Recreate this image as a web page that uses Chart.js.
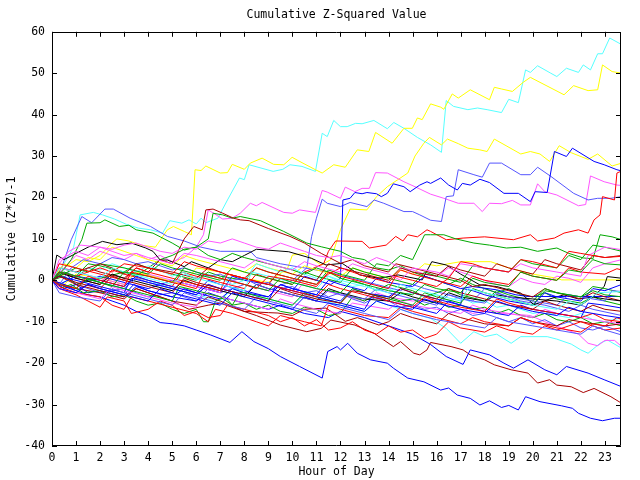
<!DOCTYPE html>
<html>
<head>
<meta charset="utf-8">
<script src="https://cdn.jsdelivr.net/npm/chart.js@4/dist/chart.umd.min.js"></script>
<style>
  html, body { margin: 0; padding: 0; background: #fff; }
  canvas { display: block; }
</style>
</head>
<body>
<canvas id="zchart" width="640" height="480"></canvas>
<script>
// hour ticks and value ticks
const hourTicks = [0,1,2,3,4,5,6,7,8,9,10,11,12,13,14,15,16,17,18,19,20,21,22,23];
const valueTicks = [-40,-30,-20,-10,0,10,20,30,40,50,60];

// each series: [hour, cumulative (z*z)-1]
const cyanTop = [[0,0],[0.3,2],[0.6,5],[0.9,8],[1.17,15.8],[1.72,16.4],[2.1,15.8],[2.6,14.8],[3.1,13.5],[3.6,12.6],[4.1,12.2],[4.6,11.4],[4.9,14.4],[5.4,13.8],[5.7,14.6],[6.0,13.6],[6.2,15],[6.4,13.9],[6.9,15],[7.3,19.4],[7.8,24.7],[8.0,24.3],[8.2,27.9],[9.2,26.3],[9.6,26.8],[9.9,27.9],[10.4,27.5],[10.96,26.3],[11.24,35.5],[11.45,34.7],[11.72,38.6],[12.0,37.1],[12.28,37.1],[12.63,37.9],[12.9,37.8],[13.39,38.6],[13.95,36.6],[14.22,38.1],[14.64,36.7],[15.2,34.5],[15.75,32.7],[16.2,30.9],[16.4,43.4],[16.7,42],[17.3,41.2],[17.7,41.6],[18.1,41.2],[18.7,40.5],[19.0,43.7],[19.4,42.9],[19.7,50.8],[19.9,50.2],[20.2,51.8],[20.75,50],[21.0,49.2],[21.4,51.2],[21.9,50.2],[22.1,52],[22.4,50.8],[22.7,54.7],[22.9,54.7],[23.2,58.5],[23.7,56.9]];
const yellowTop = [[0,0],[0.5,3],[1,5],[1.5,4.5],[2,6],[2.5,9],[2.7,10],[3.2,9.5],[3.7,8.5],[4.3,8],[4.8,12.2],[5.05,13],[5.5,11.8],[5.8,11],[5.95,26.7],[6.2,26.5],[6.4,27.6],[7.0,25.9],[7.3,26],[7.5,28],[8.0,26.8],[8.25,28.3],[8.74,29.5],[9.22,28],[9.64,27.9],[9.99,29.7],[10.4,28.4],[10.96,26.7],[11.24,25.9],[11.72,27.9],[12.2,27.3],[12.7,31.5],[13.18,31.1],[13.46,35.7],[14.15,33.1],[14.64,36.7],[14.99,36.7],[15.2,39.2],[15.4,38.8],[15.75,42.6],[16.17,41.8],[16.3,41.3],[16.65,45],[16.9,44],[17.4,46],[18.2,43.6],[18.4,46.6],[18.7,46.2],[19.15,45.6],[19.6,47.8],[19.9,49],[21.3,44.8],[21.7,47],[22.3,45.8],[22.7,46],[22.9,52],[23.3,50.4],[23.7,50]];
const yellowMid = [[0,0],[0.5,-1],[1,1.5],[2,0.5],[3,-1],[3.5,2],[4.5,0.5],[5.5,-1],[6,3],[7,2],[8,0.5],[9,-0.5],[9.8,2.9],[10.0,6.1],[10.5,6.5],[11.2,3.7],[11.6,5],[12.0,12.2],[12.4,17.2],[13.1,17],[13.5,20.2],[13.95,22.6],[14.8,25.9],[15.1,30],[15.47,33.1],[15.7,34.5],[16.2,32.7],[16.45,34.1],[16.9,33],[17.3,31.9],[17.8,31.5],[18.1,31.1],[18.4,34.1],[19.5,30.5],[19.9,31.1],[20.3,30.5],[20.7,28.7],[21.1,32.5],[21.6,30.8],[22.3,29.2],[22.7,30.5],[23.3,27.6],[23.7,28.3]];
const magentaHigh = [[0,0],[0.5,3],[1,6],[1.5,5],[2,7],[2.5,6],[3,5],[3.5,6.5],[4,5],[4.5,6],[5,4.5],[5.5,5.5],[6.0,8],[6.3,11],[6.5,17],[7.1,14.8],[7.5,15],[7.83,16.2],[8.25,18.6],[8.5,18],[8.74,18.8],[9.64,16.4],[10,16.2],[10.3,17],[10.96,16.4],[11.24,21.7],[11.45,21.3],[12.0,19.8],[12.2,22.5],[12.6,21.4],[12.9,22.2],[13.2,22.2],[13.46,26],[13.95,25.9],[14.64,23.8],[15.1,22.6],[15.75,20.8],[16.3,19.8],[16.9,18.6],[17.55,18.6],[17.9,16.6],[18.2,18.6],[18.7,18.5],[19.15,19.3],[19.5,18.2],[19.9,18.2],[20.2,23.3],[20.5,21.4],[21.0,20.6],[21.9,18],[22.2,18.3],[22.4,25.2],[22.97,23.8],[23.5,23],[23.7,22.9]];
const lblueHigh = [[0,0],[0.5,-2],[1,-1],[2,-3],[3,-2],[4,-4],[5,-3],[6,-5],[6.5,-2],[7,-3],[8,-1],[9,-2.5],[10,0],[10.6,3],[10.8,10.6],[11.0,15],[11.24,19.6],[11.45,18.6],[12.0,17.8],[12.4,18.8],[13.1,17.8],[13.4,19.4],[13.8,18.6],[14.64,16.6],[15.0,16.6],[15.3,15.8],[15.75,14.5],[16.2,14.2],[16.4,20.2],[16.7,20.4],[16.9,26.7],[17.55,25.5],[17.9,24.9],[18.2,28.3],[18.7,28.3],[19.5,25.5],[19.9,25.5],[20.2,27.3],[20.75,25.1],[21.7,21],[22.3,19.4],[22.7,19.8],[23.25,19.8],[23.7,20.2]];
const blueHigh = [[0,0],[0.5,2],[1,-1],[2,1],[3,-0.5],[4,-2],[5,0],[6,-1.5],[7,-3],[7.5,1],[8,0],[9,-1],[10,-2.5],[10.5,1],[11,0],[11.6,-1],[12.0,0.5],[12.1,19.4],[12.4,19.8],[12.6,21.2],[12.9,20.9],[13.1,21.2],[13.5,20.9],[13.7,20.2],[13.95,21],[14.2,23.3],[14.64,22.6],[14.9,21.4],[15.3,23],[15.6,23.8],[15.75,23.4],[16.17,24.7],[16.5,23],[16.86,21.8],[17.07,23.4],[17.4,23],[17.8,24.4],[18.2,23.6],[18.8,21],[19.4,21],[19.9,19],[20.1,21.4],[20.6,21.2],[20.9,31.1],[21.4,29.9],[21.65,31.9],[22.55,28.7],[22.97,27.9],[23.5,26.7],[23.7,26.4]];
const redHigh = [[0,0],[0.4,2],[1,0.5],[2,-1],[2.5,2.5],[3,1.5],[4,0],[5,-1.5],[5.4,2],[6,1],[7,-0.5],[8,-2],[8.5,1.5],[9,0.5],[10,-1],[10.5,2],[11.3,4],[11.5,7],[11.8,9.5],[12.9,9.4],[13.2,7.8],[13.9,8.5],[14.3,10.6],[14.6,9.5],[14.8,11],[15.2,10.5],[15.6,12.2],[15.75,11.8],[16.4,9.8],[17.1,10.2],[18,10.5],[19.2,9.8],[19.9,11],[20.2,9.5],[20.9,10.2],[21.3,11.4],[21.9,12.2],[22.3,11.4],[22.55,14.6],[22.8,15.8],[22.9,20.2],[23.4,19.4],[23.5,25.9],[23.7,26.4]];
const blueLow = [[0,0],[0.5,-1.5],[1,-2.5],[1.5,-3.5],[2,-4],[2.5,-5],[3,-6],[3.5,-7.5],[4,-8.5],[4.5,-10.2],[5,-10.5],[5.5,-11],[6,-12],[6.6,-13.2],[7.4,-15],[7.9,-12.4],[8.4,-14.8],[9,-16.5],[9.5,-18.4],[10.3,-20.8],[11.24,-23.6],[11.47,-17.2],[11.86,-16],[12.0,-16.8],[12.3,-15.2],[12.7,-17.6],[13.25,-19.2],[13.95,-20],[14.2,-21.2],[14.8,-23.6],[15.47,-24.5],[16.17,-26.5],[16.5,-26],[16.86,-27.7],[17.4,-28.5],[17.8,-30.1],[18.2,-29.1],[18.7,-30.7],[19.0,-30.2],[19.4,-31.3],[19.7,-28.1],[20.3,-29.3],[21.2,-30.3],[21.65,-30.9],[21.9,-32.1],[22.4,-33.3],[22.9,-33.9],[23.4,-33.3],[23.7,-33.3]];
const dredLow = [[0,0],[0.5,-1],[1,-2],[2,-3],[3,-4.5],[3.5,-2],[4,-3],[5,-5],[5.7,-7],[6.5,-6],[7,-5.5],[7.83,-7.2],[8.5,-8.5],[9.5,-10.8],[10.6,-12.4],[11.2,-11.6],[11.6,-9.6],[12.6,-10.8],[13.4,-12.8],[14.2,-16],[14.5,-14.8],[15.05,-17.6],[15.3,-18],[15.6,-16.8],[15.75,-15],[16.6,-16],[17.1,-16.8],[17.4,-18],[18.0,-19.2],[18.4,-20.4],[19.1,-21.6],[19.8,-22.4],[20.2,-24.8],[20.7,-24],[21.0,-25.3],[21.6,-25.7],[22.1,-27.1],[22.55,-26.1],[23.25,-28.1],[23.7,-29.7]];
const blueLow2 = [[0,0],[0.5,-1],[1,-2.5],[1.5,-1],[2,-2],[3,-3.5],[3.4,-1],[4,-2.5],[5,-4],[6,-5],[6.5,-3],[7,-4],[8,-5.5],[9,-7],[9.5,-6],[10.5,-8],[11.5,-9],[12,-7.5],[13,-9],[14,-11],[15,-13],[15.75,-15.5],[16.4,-18.4],[17.1,-20.3],[17.4,-16.8],[18.2,-18],[18.8,-20],[19.2,-21.2],[19.8,-19.2],[20.5,-21.6],[21.0,-22.8],[21.4,-20.8],[22.3,-22.4],[22.97,-24],[23.7,-25.7]];
const cyanLow = [[0,0],[0.5,2],[1,1],[2,-0.5],[3,-2],[3.5,1],[4,0],[5,-2],[6,-3.5],[7,-5],[7.5,-2],[8,-3],[9,-4.5],[10,-6],[10.5,-3.5],[11,-4.5],[12,-6],[13,-7.5],[13.5,-5],[14,-6],[15,-8],[15.75,-9.2],[16.4,-11.6],[17.0,-15.2],[17.55,-12.4],[18.0,-13.6],[18.5,-13],[19.1,-15.2],[19.5,-13.6],[20.6,-13.6],[21.0,-14.2],[21.6,-15.4],[22.0,-16.8],[22.3,-17.6],[22.8,-15.2],[23.1,-14.4],[23.7,-16.4]];
const magentaLow = [[0,0],[0.5,3],[1,2],[2,0.5],[3,-1],[3.4,2.5],[4,1.5],[5,0],[6,-1.5],[7,-3],[7.5,0],[8,-1],[9,-2.5],[10,-4],[10.4,-1],[11,-2],[12,-3.5],[13,-5],[13.5,-3],[14,-4],[15,-5],[15.75,-4.7],[16.4,-6],[17.1,-7.1],[17.5,-8],[18.0,-7.5],[18.6,-8],[19.3,-8.2],[19.9,-8.5],[20.5,-10],[21.2,-11.5],[21.9,-13],[22.3,-15.2],[22.7,-15.8],[23.0,-14.5],[23.4,-14.5],[23.7,-16]];
const lblueEarly = [[0,0],[0.4,3],[0.8,9.8],[1.24,15.4],[1.65,13.9],[2.2,17.2],[2.55,17.2],[3.25,15],[4.1,13],[4.8,10.6],[5.5,9.5],[6.2,8],[7,7],[8.25,7],[8.5,5.5],[9.5,4],[10.5,3],[11.5,2],[12.5,0.5],[13.5,-1],[14.5,-2.5],[15,-1],[15.5,-2],[16.5,-3.5],[17.5,-5],[18,-2],[18.5,-3],[19.5,-5],[20.5,-6],[21.5,-7.5],[22,-6],[22.5,-7],[23.7,-8.5]];
const greenJump = [[0,0],[0.5,1],[1,-1],[2,0.5],[3,2],[3.5,1],[4,3],[4.5,5],[5,6],[5.5,7.5],[6,8],[6.5,10],[6.7,16.2],[7.1,15.8],[7.5,15],[7.83,15.4],[8.67,14.4],[9.64,11.8],[10.6,9],[11.2,8.1],[12,7],[12.5,5.5],[13,5],[13.5,3],[14,2.5],[14.5,3.5],[15,2],[15.5,1],[16,0],[16.5,-1],[17,0.5],[17.5,-1],[18,-2],[18.5,-3],[19,-2],[19.5,-3.5],[20,-4],[20.5,-3],[21,-4.5],[22,-5.5],[22.5,-4],[23,-5],[23.7,-6]];
const greenLate = [[0,0],[0.5,2],[1,1],[1.5,4],[2,3.5],[3,2],[3.5,4],[4,3],[5,1.5],[6,0],[6.5,2],[7,1],[8,0],[8.5,3],[9,2],[10,0.5],[11,-1],[11.5,2.5],[12,1.5],[13,0],[13.5,4],[14,3.5],[14.5,6],[15,5],[15.5,11],[15.75,11],[16.3,11],[16.8,10],[17.55,9],[18.2,8.5],[18.9,7.8],[19.5,8],[20.2,7],[21,7.8],[21.5,6.5],[22.1,5.4],[22.5,5.2],[22.8,11],[23.3,10.5],[23.7,9.8]];
const yellowFlat = [[0,0],[0.5,4],[1,3],[1.5,5.5],[2,5],[2.5,8],[3,7],[3.5,6],[4,5],[5,3.5],[5.5,6],[6,5],[7,3.5],[8,2],[8.5,4],[9,3],[10,1.5],[10.5,3.5],[11,2.5],[12,1],[12.5,3],[13,2],[14,0.5],[14.5,2.5],[15,1.5],[15.5,4],[16,3.5],[17,4.5],[18.25,4.5],[19,3],[20,1.5],[20.5,1],[21,0.5],[21.2,0.1],[23.7,0.1]];
const blackMid = [[0,0],[0.2,6.1],[0.5,5],[1,6.5],[1.5,8],[2.1,9.4],[2.7,8.6],[3.3,9],[3.9,7.8],[4.2,7],[4.5,4.9],[4.8,4.9],[5.5,3.3],[5.8,4.5],[6.5,3],[7,5],[7.5,4.5],[8,6],[8.5,7.5],[9.85,6.9],[10.8,5.3],[11.4,3.7],[12.07,4.1],[12.8,1.3],[13.6,0.5],[14.4,1.3],[15.4,0.1],[15.8,4.5],[16.4,3.7],[17,1.5],[17.8,-1.1],[18.5,-1.5],[19.5,-3.1],[20.05,-5.9],[20.7,-4.5],[21.3,-3.5],[21.9,-4.5],[22.5,-4],[22.97,-1.5],[23.1,0.9],[23.7,0.5]];
const blueFlat = [[0,0],[0.5,-2],[1,-1],[1.5,-3],[2,-2.5],[3,-4],[3.5,-1.5],[4,-2.5],[5,-4],[5.5,-2],[6,-3],[7,-4.5],[7.5,-2],[8,-3],[9,-4],[9.5,-1],[10,-2],[11,-3.5],[11.5,0],[12,-1],[13,-2.5],[13.5,0.5],[14,-0.5],[15,-1.5],[15.5,1],[16,0],[16.5,-1],[17,-2],[17.5,-1.5],[18.5,-2.3],[19.3,-3.5],[19.8,-3.9],[23.7,-3.9]];
const dredJump = [[0,0],[0.5,1.5],[1,0.5],[1.5,3],[2,2],[3,0.5],[3.5,3],[4,2],[4.5,5],[5,4],[5.5,10],[5.9,13],[6.25,12.2],[6.4,17],[6.7,17.2],[7.1,16.2],[7.55,15],[7.83,14.6],[8.2,14.4],[9,12.5],[9.9,10.6],[10.5,9],[11.2,6.5],[12,4.1],[12.5,5],[13,3.5],[14,2],[14.3,4],[15,3],[16,1.5],[17,0],[17.5,-1.5],[18,-1],[19,-2.5],[20,-4],[20.5,-2],[21,-3],[22,-4.5],[22.5,-3],[23,-4],[23.7,-5]];
const greenEarly = [[0,0],[0.4,2],[0.8,5],[1.24,9.8],[1.45,13.8],[2.0,13.9],[2.2,14.6],[2.8,13],[3.2,13.3],[3.5,12.2],[4.2,11.4],[4.5,10.5],[5,9],[5.5,7.3],[6,8],[6.5,6],[7,5],[7.5,6.5],[8,5.5],[9,4],[10,2.5],[10.5,1.5],[11,3],[11.5,2],[12,0.5],[13,-1],[13.5,-2.5],[14,-1],[15,-2.5],[15.5,-4],[16,-3],[16.5,-2],[17,-3.5],[18,-5],[18.5,-2.5],[19,-3.5],[20,-5],[20.5,-2],[21,-3],[22,-4],[22.5,-1.5],[23,-2],[23.7,-3]];

// the bundle around zero
const redA = [[0,0],[0.3,-1],[1,-2],[1.5,1],[2,0],[3,-1.5],[3.3,2],[4,1],[5,-0.5],[6,-2],[6.3,1.5],[7,0.5],[8,-1],[8.5,-2],[9,1],[10,0],[11,-1.5],[11.5,2],[12,1],[13,-0.5],[14,-2],[14.3,1],[15,0],[16,-1.5],[16.5,0.5],[17,4.5],[17.5,4],[18,3],[19,2],[19.5,5],[20,4.5],[21,3],[21.5,7],[22,6.5],[23,5.5],[23.7,5.8]];
const greenA = [[0,0],[0.3,2],[1,1],[2,-0.5],[2.5,-1.5],[3,2],[4,1],[5,-0.5],[5.5,3],[6,2],[7,0.5],[8,-1],[9,-2.5],[9.5,0.5],[10,-0.5],[11,-2],[12,-3],[12.5,0],[13,-1],[14,-2.5],[15,-3.5],[15.5,-1],[16,-2],[17,-3],[17.5,0.5],[18,-0.5],[19,-1.5],[19.5,2],[20,1],[21,0],[21.5,2.5],[22,2],[22.5,5],[23,4],[23.7,3.7]];
const blueA = [[0,0],[0.3,-2],[1,-3],[1.5,-1],[2,-2],[3,-3.5],[4,-5],[4.5,-2],[5,-3],[6,-4.5],[7,-6],[7.5,-3],[8,-4],[9,-5.5],[10,-7],[10.5,-4],[11,-5],[12,-6],[13,-7.5],[13.5,-5],[14,-6],[15,-7],[15.5,-4.5],[16,-5.5],[17,-7],[18,-8],[18.5,-5],[19,-6],[20,-7.5],[21,-8.5],[21.5,-6.5],[22,-7.5],[23,-8.5],[23.7,-9.1]];
const magentaA = [[0,0],[0.3,5],[1,7],[1.5,6],[2,8],[2.5,7],[3,6],[3.5,6.5],[4,5.5],[5,4],[5.5,6.5],[6,6],[7,4.5],[8,3],[8.5,5],[9,4],[10,2.5],[10.5,4.5],[11,3.5],[12,2],[12.5,4],[13,3],[14,1.5],[14.5,0],[15,3],[16,2],[16.5,1],[17,4],[18,3],[19,2],[19.5,4],[20,3],[21,2],[22,1],[22.3,6],[23,8],[23.7,7.4]];
const cyanA = [[0,0],[0.3,3],[1,2],[2,0.5],[2.5,3],[3,2],[4,0.5],[5,-1],[5.5,1.5],[6,0.5],[7,-1],[8,-2.5],[8.3,2],[9,1],[10,-0.5],[11,-2],[11.5,1],[12,0],[13,-1.5],[14,-3],[14.5,-1],[15,-2],[16,-3.5],[17,-5],[17.3,-2],[18,-3],[19,-4.5],[20,-6],[21,-7],[21.5,-5],[22,-6],[22.7,-3],[23.7,-2.7]];
const dredA = [[0,0],[0.3,1],[1,-0.5],[2,-2],[2.5,1],[3,0],[4,-1.5],[5,-3],[5.5,0.5],[6,-0.5],[7,-2],[8,-3.5],[9,-5],[9.5,-2],[10,-3],[11,-4.5],[12,-5.5],[12.5,-2.5],[13,-3],[14,-4.5],[14.5,-2],[15,-3],[16,-4.5],[16.5,-2],[17,-3],[18,-4.5],[19,-6],[20,-7],[20.5,-5],[21,-6],[22,-7.5],[22.5,-6],[23,-7],[23.7,-7.5]];
const lblueA = [[0,0],[0.3,-3],[1,-4],[2,-5],[2.5,-2],[3,-3],[4,-4.5],[5,-6],[5.5,-3],[6,-4],[7,-5.5],[8,-7],[8.5,-4],[9,-5],[10,-6.5],[11,-8],[11.5,-5.5],[12,-6.5],[13,-8],[14,-9.5],[14.5,-7],[15,-8],[16,-9.5],[17,-10.5],[18,-11.5],[18.5,-9],[19,-10],[20,-11],[21,-12],[22,-13],[22.5,-11],[23,-12],[23.7,-13.2]];
const redB = [[0,0],[0.3,4],[1,3],[2,1.5],[3,0],[3.5,3],[4,2],[5,0.5],[6,-1],[7,-2.5],[7.3,1.5],[8,0.5],[9,-1],[10,-2.5],[11,-4],[11.5,-1],[12,-2],[13,-3.5],[14,-5],[15,-6.5],[15.5,-4],[16,-5],[17,-6.5],[18,-7.5],[18.5,-4.5],[19,-5.5],[20,-7],[21,-8],[22,-9],[22.5,-8],[23,-9.5],[23.7,-10]];
const blueB = [[0,0],[0.3,1],[1,0],[2,-1.5],[3,-3],[3.3,0.5],[4,-0.5],[5,-2],[6,-3.5],[6.5,-1],[7,-2],[8,-3.5],[9,-5],[9.3,-1.5],[10,-2.5],[11,-4],[12,-5.5],[13,-7],[13.3,-4],[14,-5],[15,-6.5],[16,-8],[16.5,-5],[17,-6],[18,-7.5],[19,-8.5],[19.5,-6],[20,-7],[21,-8],[22,-9],[22.3,-5.5],[23,-6],[23.7,-6.7]];
const greenB = [[0,0],[0.3,-1],[1,-2],[1.5,0.5],[2,-0.5],[3,-2],[4,-3.5],[5,-5],[5.3,-1.5],[6,-2.5],[7,-4],[7.5,-6],[7.8,-3],[8,-3],[9,-4.5],[10,-6],[10.5,-3],[11,-4],[12,-5.5],[12.5,-2],[13,-3],[14,-4.5],[15,-6],[15.5,-3],[16,-4],[17,-5.5],[17.5,-2],[18,-3],[19,-4.5],[20,-6],[20.5,-2.5],[21,-3],[22,-4],[22.5,-2.5],[23,-3.5],[23.7,-4]];
const redC = [[0,0],[0.3,2],[1,1],[2,3],[2.5,2],[3,4],[4,3],[5,1.5],[5.5,4.5],[6,3.5],[7,2],[8,0.5],[8.5,3],[9,2],[10,0.5],[11,-1],[11.5,1.5],[12,3],[12.5,2],[13,1],[14,-0.5],[14.5,2.5],[15,1.5],[16,0],[17,-1.5],[17.5,1],[18,0],[19,-1],[19.5,2],[20,1],[21,0],[21.5,3],[22,2],[23,1.5],[23.5,2.8],[23.7,2.5]];
const dredB = [[0,0],[0.3,3],[1,2],[2,4],[2.5,3],[3,1.5],[3.5,4],[4,3],[5,2],[6,0.5],[6.5,3],[7,2],[8,0.5],[9,-1],[9.5,2.5],[10,1.5],[11,0],[11.5,4],[12,3],[13,1.5],[14,0],[14.5,3],[15,2],[16,1],[16.5,3.5],[17,2.5],[18,1],[18.5,4],[19,3],[20,1.5],[20.5,5],[21,4],[22,2.5],[22.5,6],[23,5.5],[23.7,6]];
const magentaB = [[0,0],[0.3,-2],[1,-3],[2,-4.5],[2.5,-1.5],[3,-2.5],[4,-4],[5,-5.5],[6,-6.5],[6.3,-3],[7,-4],[8,-5.5],[9,-7],[9.5,-4.5],[10,-5.5],[11,-7],[12,-8],[12.5,-5.5],[13,-6],[14,-7],[14.5,-5],[15,-6],[16,-7],[17,-8],[17.5,-6],[18,-7],[19,-8],[20,-9],[20.5,-7],[21,-8],[22,-9],[23,-10],[23.7,-10.5]];
const lblueB = [[0,0],[0.3,2],[1,1],[2,-0.5],[3,-2],[3.5,0.5],[4,-0.5],[5,-2],[6,-3.5],[6.5,-1],[7,-2],[8,-3.5],[8.5,-1],[9,-2],[10,-3.5],[11,-5],[11.5,-2.5],[12,-3.5],[13,-4.5],[13.5,-2],[14,-3],[15,-4.5],[16,-6],[16.5,-3.5],[17,-4.5],[18,-5.5],[18.5,-3],[19,-4],[20,-5],[21,-6],[21.5,-3.5],[22,-4],[23,-5],[23.3,-2.5],[23.7,-2.7]];
const greenC = [[0,0],[0.3,1],[1,3],[1.5,2],[2,4],[3,3],[4,1.5],[4.5,4],[5,3],[6,1.5],[7,0],[7.5,3],[8,2],[9,0.5],[10,-1],[10.5,2],[11,1],[12,-0.5],[12.5,3],[13,2],[14,0.5],[15,-1],[15.5,2],[16,1],[17,-0.5],[17.5,3.5],[18,3],[19,2],[19.5,5],[20,4],[21,3],[21.5,6],[22,5],[22.5,8.5],[23,8],[23.7,7]];
const blueC = [[0,0],[0.3,-1],[1,1],[2,0],[3,-1.5],[3.5,1],[4,0],[5,-1.5],[6,-3],[6.5,0],[7,-1],[8,-2.5],[9,-4],[9.5,-1],[10,-2],[11,-3.5],[12,-5],[12.5,-2],[13,-3],[14,-4],[14.5,-2],[15,-3],[16,-4.5],[17,-6],[17.1,-2],[17.5,-2.5],[18,-3.5],[19,-5],[20,-6],[20.5,-3],[21,-4],[22,-5],[22.5,-2],[23,-2.5],[23.7,-1]];
const redD = [[0,0],[0.3,-1.5],[1,-3],[2,-4],[2.5,-6],[3,-7],[3.3,-4],[4,-5],[5,-6.5],[6,-8],[6.5,-10],[6.8,-7],[7.5,-8],[8.5,-10],[9,-11],[9.5,-8.5],[10.5,-10],[11.2,-11],[11.5,-6],[12,-7],[13,-8.5],[14,-9],[14.5,-6.5],[15,-7.5],[16,-9],[17,-10.5],[17.5,-9],[18,-10],[19,-11],[19.5,-9],[20,-10],[21,-11.5],[22,-12.5],[22.5,-10.5],[23,-11],[23.5,-9],[23.7,-9.5]];
const blackB = [[0,0],[0.3,2],[1,0.5],[2,-1],[2.5,1.5],[3,0.5],[4,-1],[5,-2.5],[5.5,0],[6,-1],[7,-2.5],[8,-4],[8.5,-1],[9,-2],[10,-3.5],[11,-5],[11.5,-2],[12,-3],[13,-4.5],[14,-5],[14.5,-3],[15,-4],[16,-5.5],[16.5,-3],[17,-4],[18,-5],[18.5,-3.5],[19,-4],[20,-4.5],[21,-5],[22,-6],[22.5,-4],[23,-4.5],[23.7,-5]];
const redE = [[0,0],[0.3,-2],[1,-3.5],[1.5,-5],[2,-6.5],[2.3,-4],[3,-5],[3.3,-8],[4,-7],[4.5,-5],[5,-6],[5.5,-8.5],[6,-7.5],[6.5,-9],[7,-8.5],[7.3,-6],[8,-7],[9,-8.5],[9.5,-10],[10,-9],[10.5,-11],[11,-9.5],[11.5,-12],[12,-11.5],[12.5,-10],[13,-12],[13.5,-13],[14,-11],[14.5,-12.5],[15,-12],[15.5,-14],[16,-13],[16.5,-10],[17,-11.5],[18,-12.5],[18.5,-11],[19,-12],[20,-13],[20.5,-11],[21,-12],[22,-10],[22.5,-11],[23,-12],[23.7,-11.5]];
const dredC = [[0,0],[0.3,1],[1,-1],[2,-2.5],[3,-4],[3.5,-2],[4,-3],[5,-5],[6,-6],[6.5,-4],[7,-5],[8,-7.5],[9,-7.8],[9.4,-7.9],[10,-8.5],[10.5,-7],[11.4,-6.7],[12.2,-9.9],[12.7,-9],[13.6,-10.8],[14,-10],[14.5,-8],[15,-9],[16,-10.5],[16.5,-8],[17,-9],[18,-10.5],[19,-11],[19.5,-9],[20,-10],[21,-11],[21.5,-9.5],[22,-10],[23,-11],[23.7,-10.5]];
const magentaC = [[0,0],[0.3,4],[0.7,7],[1.2,8.5],[2,8],[2.5,7.5],[3,8.5],[3.5,9],[4,8],[4.5,7],[5,6.5],[5.5,8],[6,7.5],[6.5,9.5],[7,9],[7.5,10],[8,9],[8.5,8],[9,7.5],[9.5,9],[10,8],[10.5,7],[11,6],[11.5,5.5],[12,6],[12.5,5],[13,4],[13.5,5.5],[14,4.5],[14.5,3],[15,2.5],[15.5,1.5],[16,1],[16.5,3],[17,2],[17.5,1],[18,0],[18.5,-1],[19,-1.5],[19.5,0.5],[20,-0.5],[20.5,-1],[21,1],[21.5,0.5],[22,-0.5],[22.5,3],[23,4],[23.7,5]];
const lblueC = [[0,0],[0.3,-1],[0.8,3],[1.3,5],[2,4],[2.5,5.5],[3,5],[3.5,4],[4,4.5],[4.5,3.5],[5,2.5],[5.5,3],[6,2],[6.5,1],[7,1.5],[7.5,0],[8,0.5],[8.5,-1],[9,-0.5],[9.5,-2],[10,-1.5],[10.5,-3],[11,-2.5],[11.5,-4],[12,-3],[12.5,-4.5],[13,-5.5],[13.5,-4],[14,-5],[14.5,-6.5],[15,-6],[15.5,-7],[16,-6.5],[16.5,-8],[17,-7],[17.5,-8.5],[18,-8],[18.5,-9],[19,-10],[19.5,-9],[20,-10.5],[20.5,-9.5],[21,-11],[21.5,-10],[22,-11.5],[22.5,-12],[23,-11],[23.7,-12.5]];
const cyanB = [[0,0],[0.3,-1],[1,1],[1.5,3],[2,2.5],[2.5,4],[3,3],[3.5,2],[4,3.5],[4.5,2.5],[5,1],[5.5,2],[6,0],[6.5,1.5],[7,0.5],[7.5,-1],[8,0],[8.5,4],[9,3],[9.5,2],[10,3],[10.5,1.5],[11,0.5],[11.5,1],[12,-0.5],[12.5,-1.5],[13,-1],[13.5,-2.5],[14,-2],[14.5,-3.5],[15,-3],[15.5,-4],[16,-3.5],[16.5,-5],[17,-4],[17.5,-5.5],[18,-5],[18.5,-6.5],[19,-6],[19.5,-7],[20,-8],[20.5,-7.5],[21,-8.5],[21.5,-9],[22,-8],[22.5,-9.5],[23,-10],[23.7,-9]];
const greenD = [[0,0],[0.3,-2],[0.8,-1],[1.3,-3],[2,-2.5],[2.5,-4],[3,-3.5],[3.5,-5],[4,-6],[4.5,-5.5],[5,-7],[5.5,-8],[6,-7],[6.3,-10],[6.5,-10],[6.8,-5],[7.2,-4],[7.5,-6],[8,-5.5],[8.5,-7],[9,-6],[9.5,-7.5],[10,-8],[10.5,-6.5],[11,-7],[11.5,-8.5],[12,-8],[12.5,-4],[13,-5],[13.5,-3.5],[14,-4],[14.5,-5],[15,-4.5],[15.5,-6],[16,-5],[16.5,-6.5],[17,-6],[17.5,-7],[18,-6.5],[18.5,-8],[19,-7],[19.5,-8.5],[20,-9],[20.5,-8],[21,-9.5],[21.5,-10],[22,-9],[22.5,-10.5],[23,-10],[23.7,-11]];

const RED = '#ff0000', GREEN = '#00a800', BLUE = '#0000ff', MAGENTA = '#ff55ff',
      CYAN = '#55ffff', YELLOW = '#ffff00', BLACK = '#000000', LBLUE = '#5555ff', DRED = '#a80000';

const seriesList = [
    [redA, RED], [greenA, GREEN], [blueA, BLUE], [magentaA, MAGENTA], [cyanA, CYAN],
    [dredA, DRED], [lblueA, LBLUE], [redB, RED], [blueB, BLUE], [greenB, GREEN],
    [redC, RED], [dredB, DRED], [magentaB, MAGENTA], [lblueB, LBLUE], [greenC, GREEN],
    [blueC, BLUE], [redD, RED], [blackB, BLACK], [redE, RED], [dredC, DRED],
    [magentaC, MAGENTA], [lblueC, LBLUE], [cyanB, CYAN], [greenD, GREEN],
    [greenEarly, GREEN], [dredJump, DRED], [blueFlat, BLUE], [blackMid, BLACK],
    [yellowFlat, YELLOW], [greenLate, GREEN], [greenJump, GREEN], [lblueEarly, LBLUE],
    [magentaLow, MAGENTA], [cyanLow, CYAN], [blueLow2, BLUE], [dredLow, DRED],
    [blueLow, BLUE], [redHigh, RED], [blueHigh, BLUE], [lblueHigh, LBLUE],
    [magentaHigh, MAGENTA], [yellowMid, YELLOW], [yellowTop, YELLOW], [cyanTop, CYAN]
];

const FONT = { family: "'DejaVu Sans Mono', monospace", size: 11.5 };

// border box with inward ticks on all four sides, gnuplot style;
// also centres the title over the plot area
const framePlugin = {
    id: 'frame',
    afterLayout(chart) {
        const tb = chart.titleBlock;
        if (tb) {
            tb.left = chart.chartArea.left;
            tb.right = chart.chartArea.right;
            tb.width = tb.right - tb.left;
        }
    },
    afterDatasetsDraw(chart) {
        const { ctx, chartArea: a, scales: { x, y } } = chart;
        const len = 5;
        ctx.save();
        ctx.strokeStyle = '#000';
        ctx.lineWidth = 1;
        ctx.beginPath();
        ctx.rect(Math.round(a.left) + 0.5, Math.round(a.top) + 0.5,
                 Math.round(a.right - a.left) - 1, Math.round(a.bottom - a.top) - 1);
        x.ticks.forEach(t => {
            const px = Math.round(x.getPixelForValue(t.value)) + 0.5;
            ctx.moveTo(px, a.top); ctx.lineTo(px, a.top + len);
            ctx.moveTo(px, a.bottom); ctx.lineTo(px, a.bottom - len);
        });
        y.ticks.forEach(t => {
            const py = Math.round(y.getPixelForValue(t.value)) + 0.5;
            ctx.moveTo(a.left, py); ctx.lineTo(a.left + len, py);
            ctx.moveTo(a.right, py); ctx.lineTo(a.right - len, py);
        });
        ctx.stroke();
        ctx.restore();
    }
};

new Chart(document.getElementById('zchart'), {
    type: 'line',
    data: {
        datasets: seriesList.map(([pts, color]) => ({
            data: pts.map(([h, v]) => ({ x: h, y: v })),
            borderColor: color,
            backgroundColor: color,
            borderWidth: 1,
            pointRadius: 0,
            tension: 0,
            fill: false
        }))
    },
    options: {
        responsive: false,
        animation: false,
        devicePixelRatio: 1,
        layout: { padding: { left: 0, right: 19, top: 0, bottom: 0 } },
        plugins: {
            legend: { display: false },
            tooltip: { enabled: false },
            title: {
                display: true,
                text: 'Cumulative Z-Squared Value',
                color: '#000',
                font: { ...FONT, weight: 'normal' },
                padding: { top: 8, bottom: 10 }
            }
        },
        scales: {
            x: {
                type: 'linear',
                min: 0,
                max: 23.67,
                afterBuildTicks: s => { s.ticks = hourTicks.map(v => ({ value: v })); },
                afterFit: s => { s.height = 34; },
                grid: { display: false, drawTicks: false },
                border: { display: false },
                ticks: { color: '#000', font: FONT, padding: 5, maxRotation: 0, autoSkip: false },
                title: { display: true, text: 'Hour of Day', color: '#000', font: FONT, padding: { top: 0, bottom: 1 } }
            },
            y: {
                type: 'linear',
                min: -40,
                max: 60,
                afterBuildTicks: s => { s.ticks = valueTicks.map(v => ({ value: v })); },
                afterFit: s => { s.width = 52; },
                grid: { display: false, drawTicks: false },
                border: { display: false },
                ticks: { color: '#000', font: FONT, padding: 7 },
                title: { display: true, text: 'Cumulative (Z*Z)-1', color: '#000', font: FONT, padding: { top: 5, bottom: 0 } }
            }
        }
    },
    plugins: [framePlugin]
});
</script>
</body>
</html>
